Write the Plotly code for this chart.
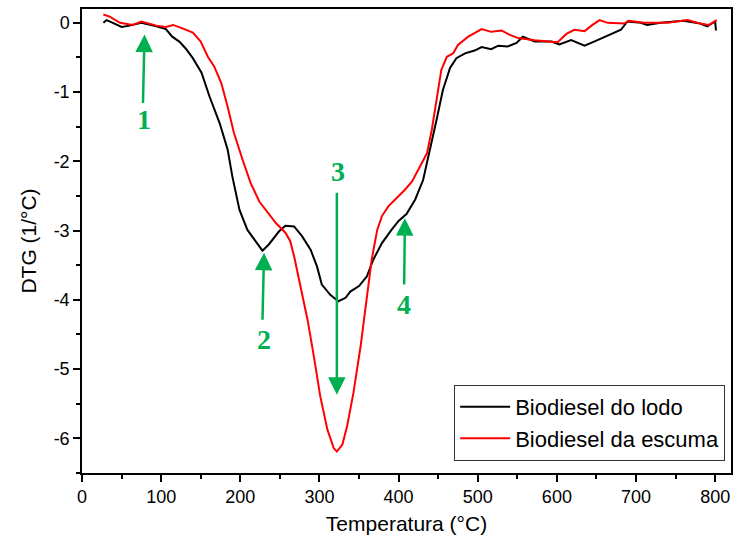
import plotly.graph_objects as go

# ---- data ----
temp_lodo = [27, 31, 39, 50, 60, 75, 94, 106, 114, 123, 131, 140, 151, 161, 174, 184, 190, 199, 209, 220,
             228, 236, 249, 257, 264, 268, 278, 289, 297, 303, 314, 324, 333, 339, 350, 360, 368, 379, 391,
             400, 410, 421, 431, 440, 448, 456, 465, 473, 484, 496, 505, 517, 526, 538, 549, 557, 572, 593,
             603, 618, 635, 647, 668, 681, 689, 706, 714, 731, 760, 781, 790, 800, 801]
dtg_lodo = [0.0, 0.04, 0.0, -0.06, -0.04, 0.0, -0.05, -0.09, -0.2, -0.27, -0.37, -0.51, -0.72, -1.06, -1.45,
            -1.83, -2.22, -2.70, -2.99, -3.16, -3.29, -3.20, -3.01, -2.93, -2.93, -2.94, -3.08, -3.28, -3.52,
            -3.78, -3.93, -4.02, -3.97, -3.88, -3.80, -3.66, -3.42, -3.18, -2.99, -2.86, -2.76, -2.55, -2.27,
            -1.83, -1.40, -0.97, -0.65, -0.51, -0.44, -0.40, -0.35, -0.38, -0.33, -0.34, -0.29, -0.20, -0.27,
            -0.27, -0.31, -0.25, -0.33, -0.27, -0.17, -0.10, 0.02, 0.0, -0.03, 0.0, 0.03, -0.01, -0.05, 0.02,
            -0.11]

temp_escuma = [27, 35, 48, 64, 75, 94, 106, 115, 127, 140, 150, 159, 167, 176, 184, 192, 203, 213, 224, 234,
               245, 257, 263, 268, 276, 285, 293, 301, 310, 318, 322, 329, 335, 343, 352, 360, 366, 373, 379,
               387, 396, 408, 417, 427, 436, 442, 448, 454, 461, 469, 475, 488, 505, 517, 530, 540, 551, 572,
               601, 612, 622, 635, 645, 654, 664, 685, 691, 710, 740, 765, 781, 792, 802]
dtg_escuma = [0.12, 0.09, 0.0, -0.03, 0.02, -0.04, -0.06, -0.03, -0.08, -0.14, -0.27, -0.49, -0.63, -0.87,
              -1.21, -1.59, -1.98, -2.31, -2.58, -2.72, -2.89, -3.03, -3.15, -3.37, -3.80, -4.29, -4.82, -5.39,
              -5.87, -6.14, -6.19, -6.09, -5.82, -5.34, -4.67, -4.0, -3.42, -2.99, -2.79, -2.65, -2.55, -2.41,
              -2.29, -2.07, -1.88, -1.54, -1.11, -0.68, -0.49, -0.44, -0.32, -0.20, -0.09, -0.13, -0.11, -0.17,
              -0.22, -0.25, -0.28, -0.16, -0.10, -0.12, -0.03, 0.04, 0.0, -0.01, 0.03, 0.0, 0.0, 0.04, -0.01,
              -0.03, 0.04]

series_names = ["Biodiesel do lodo", "Biodiesel da escuma"]

x_ticks = [0, 100, 200, 300, 400, 500, 600, 700, 800]
y_ticks = [0, -1, -2, -3, -4, -5, -6]
y_tick_text = ["0", "-1", "-2", "-3", "-4", "-5", "-6"]

# event markers: label, arrow tip (x, y), arrow tail (x, y), label position (x, y)
event_labels = ["1", "2", "3", "4"]
arrow_tip = [(79, -0.17), (230, -3.32), (322, -5.37), (408, -2.82)]
arrow_tail = [(77, -1.18), (228, -4.31), (322, -2.43), (407, -3.80)]
label_pos = [(78, -1.40), (230, -4.57), (323, -2.15), (407, -4.07)]

GREEN = "#00B050"
FONT = "Liberation Sans, Arial, sans-serif"

fig = go.Figure()
fig.add_trace(go.Scatter(x=temp_lodo, y=dtg_lodo, mode="lines", name=series_names[0],
                         line=dict(color="black", width=2)))
fig.add_trace(go.Scatter(x=temp_escuma, y=dtg_escuma, mode="lines", name=series_names[1],
                         line=dict(color="#FF0000", width=2)))

annotations = []
for lab, tip, tail, lp in zip(event_labels, arrow_tip, arrow_tail, label_pos):
    annotations.append(dict(x=tip[0], y=tip[1], ax=tail[0], ay=tail[1], xref="x", yref="y",
                            axref="x", ayref="y", text="", showarrow=True, arrowhead=2,
                            arrowsize=1.4, arrowwidth=2.5, arrowcolor=GREEN, standoff=0))
    annotations.append(dict(x=lp[0], y=lp[1], xref="x", yref="y", text="<b>%s</b>" % lab,
                            showarrow=False,
                            font=dict(family="Liberation Serif, Times New Roman, serif", size=28,
                                      color=GREEN)))

fig.update_layout(
    width=736, height=543,
    margin=dict(l=82, r=3, t=9, b=70),
    paper_bgcolor="white", plot_bgcolor="white",
    font=dict(family=FONT, color="black"),
    showlegend=True,
    legend=dict(x=0.991, y=0.026, xanchor="right", yanchor="bottom",
                bordercolor="#333333", borderwidth=1, bgcolor="white",
                font=dict(size=22, family=FONT), itemwidth=50, tracegroupgap=0),
    annotations=annotations,
)
fig.update_xaxes(range=[0, 820], tickvals=x_ticks, ticks="outside", ticklen=7, tickwidth=1.5,
                 tickcolor="black", showline=True, linecolor="black", linewidth=1.5, mirror=True,
                 showgrid=False, zeroline=False, tickfont=dict(size=18),
                 minor=dict(dtick=50, ticks="outside", ticklen=4, tickwidth=1.5, tickcolor="black",
                            showgrid=False),
                 title=dict(text="Temperatura (°C)", font=dict(size=21), standoff=10))
fig.update_yaxes(range=[-6.5, 0.2], tickvals=y_ticks, ticktext=y_tick_text, ticks="outside", ticklen=7,
                 tickwidth=1.5, tickcolor="black", showline=True, linecolor="black", linewidth=1.5,
                 mirror=True, showgrid=False, zeroline=False, tickfont=dict(size=18),
                 minor=dict(dtick=0.5, ticks="outside", ticklen=4, tickwidth=1.5, tickcolor="black",
                            showgrid=False),
                 title=dict(text="DTG (1/°C)", font=dict(size=21), standoff=11))

fig.write_html("out.html")
